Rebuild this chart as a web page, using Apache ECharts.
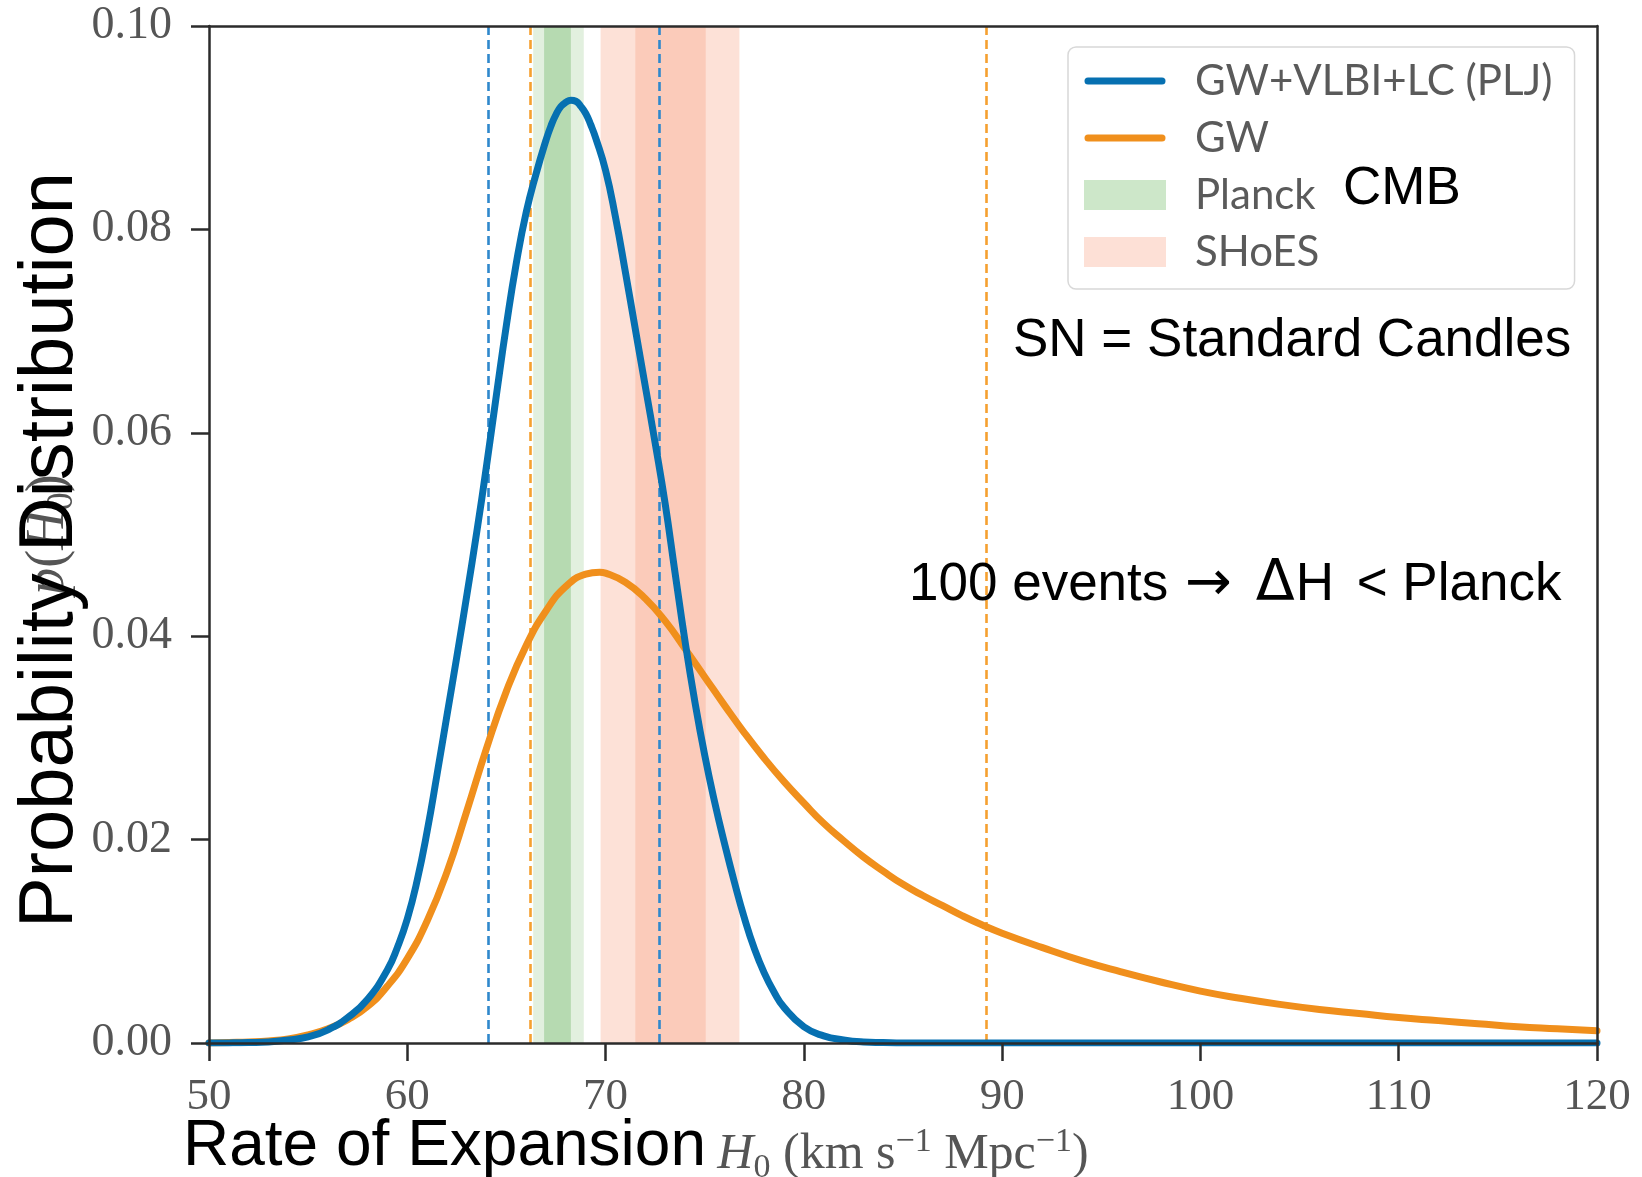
<!DOCTYPE html>
<html>
<head>
<meta charset="utf-8">
<script src="https://cdn.jsdelivr.net/npm/echarts@6/dist/echarts.min.js"></script>
<style>
  html, body { margin: 0; padding: 0; background: #ffffff; }
  #chart { width: 1642px; height: 1177px; }
</style>
</head>
<body>
<div id="chart"></div>
<script>
// Posterior of H0 from GW + VLBI + light curve (PLJ model)
const h0Blue = [50, 51, 52, 53, 54, 55, 56, 57, 58, 59, 59.5, 60, 60.5, 61, 61.5, 62, 62.5, 63, 63.5,
  64, 64.5, 65, 65.5, 66, 66.5, 67, 67.25, 67.5, 67.75, 68, 68.25, 68.5, 68.75, 69, 69.25, 69.5, 70, 70.5, 71, 71.5, 72, 72.5,
  73, 73.5, 74, 74.5, 75, 75.5, 76, 76.5, 77, 77.5, 78, 78.5, 79, 80, 81, 82, 83, 84, 85, 90, 100, 110, 120];
const pBlue = [0, 0.00001, 0.00004, 0.0001, 0.0003, 0.0006, 0.0013, 0.0025, 0.0043, 0.0072, 0.0094, 0.0122, 0.0160, 0.0208, 0.0264, 0.0322, 0.0380, 0.0440, 0.0502,
  0.0568, 0.0638, 0.0706, 0.0767, 0.0817, 0.0855, 0.0888, 0.0902, 0.0913, 0.0921, 0.0925, 0.0927, 0.0926, 0.0921, 0.0914, 0.0903, 0.0890, 0.0858, 0.0812, 0.0758, 0.0702, 0.0646, 0.0590,
  0.0531, 0.0463, 0.0396, 0.0336, 0.0283, 0.0237, 0.0196, 0.0158, 0.0123, 0.0093, 0.0069, 0.0050, 0.0035, 0.0016, 0.0007, 0.0003, 0.0001, 0.00004, 0, 0, 0, 0, 0];

// Posterior of H0 from GW alone
const h0Orange = [50, 51, 52, 53, 54, 55, 56, 57, 58, 59, 60, 61, 62, 63, 64, 65, 66, 67, 68, 69, 69.7, 70,
  71, 72, 73, 74, 75, 76, 77, 78, 79, 80, 81, 82, 83, 84, 85, 86, 87, 88, 89, 90,
  92, 94, 96, 98, 100, 102, 104, 106, 108, 110, 112, 114, 116, 118, 120];
const pOrange = [0, 0.00005, 0.0001, 0.0002, 0.0004, 0.0008, 0.0014, 0.0023, 0.0036, 0.0056, 0.0083, 0.0120, 0.0168, 0.0228, 0.0290, 0.0346, 0.0391, 0.0425, 0.0449, 0.0461, 0.0463, 0.0462,
  0.0453, 0.0437, 0.0415, 0.0388, 0.0360, 0.0332, 0.0305, 0.0280, 0.0257, 0.0236, 0.0216, 0.0199, 0.0183, 0.0169, 0.0156, 0.0145, 0.0135, 0.0125, 0.0116, 0.0108,
  0.0094, 0.0081, 0.0070, 0.0060, 0.0051, 0.0044, 0.0038, 0.0033, 0.0029, 0.0025, 0.0022, 0.0019, 0.0016, 0.0014, 0.0012];

// Credible interval bounds (dashed lines)
const blueInterval = [64.08, 72.7];
const orangeInterval = [66.2, 89.2];

// Reference measurements: inner = 1 sigma, outer = 2 sigma
const planckInner = [66.9, 68.25];
const planckOuter = [66.35, 68.9];
const shoesInner = [71.5, 75.05];
const shoesOuter = [69.75, 76.75];

// Axis ticks
const xTicks = { min: 50, max: 120, step: 10 };
const yTicks = { min: 0, max: 0.1, step: 0.02 };

const legendNames = ['GW+VLBI+LC (PLJ)', 'GW', 'Planck', 'SHoES'];

const BLUE = '#0670b1';
const ORANGE = '#f08f1c';
const SPINE = '#2b2b2b';
const TICK_FONT = '"Liberation Serif", "DejaVu Serif", serif';
const SANS = '"Liberation Sans", Arial, sans-serif';

const zip = (xs, ys) => xs.map((x, i) => [x, ys[i]]);

const lineIcon = 'path://M0,0 M82,30 M4,11.5 L78,11.5 A3.5,3.5 0 0 1 78,18.5 L4,18.5 A3.5,3.5 0 0 1 4,11.5 Z';

function serifRich(size) {
  const small = Math.round(size * 0.68);
  return {
    m:   { fontFamily: TICK_FONT, fontSize: size, lineHeight: size + 10, color: '#555' },
    it:  { fontFamily: TICK_FONT, fontStyle: 'italic', fontSize: size, lineHeight: size + 10, color: '#555' },
    sub: { fontFamily: TICK_FONT, fontSize: small, lineHeight: small + 2, verticalAlign: 'bottom', color: '#555' },
    sup: { fontFamily: TICK_FONT, fontSize: small, lineHeight: small + 2, verticalAlign: 'top', color: '#555' }
  };
}

const noteRich = {
  t: { fontFamily: SANS, fontSize: 53, color: '#000' },
  h: { fontFamily: SANS, fontSize: 53, color: '#000', padding: [0, 8, 0, 0] },
  a: { fontFamily: '"DejaVu Sans", sans-serif', fontSize: 56, color: '#000', padding: [0, 2, 0, 2] },
  d: { fontFamily: '"DejaVu Sans", sans-serif', fontSize: 57, color: '#000', padding: [0, 1, 0, 7] }
};

const chart = echarts.init(document.getElementById('chart'), null, { renderer: 'canvas' });

const baseX = {
  type: 'value', min: xTicks.min, max: xTicks.max, interval: xTicks.step,
  splitLine: { show: false }, z: 10,
  axisLine: { show: true, onZero: false, lineStyle: { color: SPINE, width: 2.5 } }
};
const baseY = {
  type: 'value', min: yTicks.min, max: yTicks.max, interval: yTicks.step,
  splitLine: { show: false }, z: 10,
  axisLine: { show: true, onZero: false, lineStyle: { color: SPINE, width: 2.5 } }
};

chart.setOption({
  animation: false,
  backgroundColor: '#ffffff',
  grid: { left: 209, right: 45, top: 26, bottom: 134, show: false, containLabel: false, outerBoundsMode: 'none' },
  xAxis: [
    Object.assign({}, baseX, {
      position: 'bottom',
      axisTick: { show: true, length: 18, lineStyle: { color: SPINE, width: 2.5 } },
      axisLabel: { margin: 32, fontFamily: TICK_FONT, fontSize: 45, color: '#555' },
      name: '{it|H}{sub|0}{m| (km s}{sup|−1}{m| Mpc}{sup|−1}{m|)}',
      nameLocation: 'middle', nameGap: 82,
      nameTextStyle: { rich: serifRich(50) }
    }),
    Object.assign({}, baseX, {
      position: 'top', axisTick: { show: false }, axisLabel: { show: false }
    })
  ],
  yAxis: [
    Object.assign({}, baseY, {
      position: 'left',
      axisTick: { show: true, length: 18, lineStyle: { color: SPINE, width: 2.5 } },
      axisLabel: {
        margin: 37, fontFamily: TICK_FONT, fontSize: 46, color: '#555',
        formatter: v => v.toFixed(2)
      },
      name: '{it|p}{m|(}{it|H}{sub|0}{m|)}',
      nameLocation: 'middle', nameRotate: 90, nameGap: 118,
      nameTextStyle: { rich: serifRich(54) }
    }),
    Object.assign({}, baseY, {
      position: 'right', axisTick: { show: false }, axisLabel: { show: false }
    })
  ],
  legend: {
    orient: 'vertical',
    left: 1068, top: 47,
    padding: [13, 22, 16, 16],
    itemWidth: 82, itemHeight: 30, itemGap: 15,
    backgroundColor: 'rgba(255,255,255,0.85)',
    borderColor: '#d8d8d8', borderWidth: 1.5, borderRadius: 8,
    selectedMode: false,
    itemStyle: { borderWidth: 0 },
    textStyle: { fontFamily: 'Lato, "Open Sans", sans-serif', fontSize: 42, color: '#5a5a5a', padding: [0, 0, 0, 24] },
    data: [
      { name: legendNames[0], icon: lineIcon, itemStyle: { color: BLUE } },
      { name: legendNames[1], icon: lineIcon, itemStyle: { color: ORANGE } },
      { name: legendNames[2], icon: 'rect', itemStyle: { color: '#cde7c9' } },
      { name: legendNames[3], icon: 'rect', itemStyle: { color: '#fde0d6' } }
    ]
  },
  series: [
    {
      name: 'SHoES', type: 'line', data: [], z: 1,
      markArea: {
        silent: true, z: 1,
        data: [
          [{ xAxis: shoesOuter[0], itemStyle: { color: '#fde1d7' } }, { xAxis: shoesOuter[1] }],
          [{ xAxis: shoesInner[0], itemStyle: { color: '#fbcbba' } }, { xAxis: shoesInner[1] }]
        ]
      }
    },
    {
      name: 'Planck', type: 'line', data: [], z: 1,
      markArea: {
        silent: true, z: 1,
        data: [
          [{ xAxis: planckOuter[0], itemStyle: { color: '#e2f0df' } }, { xAxis: planckOuter[1] }],
          [{ xAxis: planckInner[0], itemStyle: { color: '#b6dab1' } }, { xAxis: planckInner[1] }]
        ]
      }
    },
    {
      name: 'interval-blue', type: 'line', data: [], z: 3,
      markLine: {
        silent: true, z: 3, symbol: ['none', 'none'], label: { show: false },
        lineStyle: { color: '#2f88cc', width: 2.6, type: [9, 5] },
        data: blueInterval.map(v => ({ xAxis: v }))
      }
    },
    {
      name: 'interval-orange', type: 'line', data: [], z: 3,
      markLine: {
        silent: true, z: 3, symbol: ['none', 'none'], label: { show: false },
        lineStyle: { color: '#f5a030', width: 2.6, type: [9, 5] },
        data: orangeInterval.map(v => ({ xAxis: v }))
      }
    },
    {
      name: legendNames[1], type: 'line', z: 5,
      data: zip(h0Orange, pOrange),
      showSymbol: false, smooth: 0.5,
      lineStyle: { color: ORANGE, width: 7, cap: 'round', join: 'round' },
      itemStyle: { color: ORANGE }
    },
    {
      name: legendNames[0], type: 'line', z: 6,
      data: zip(h0Blue, pBlue),
      showSymbol: false, smooth: 0.5,
      lineStyle: { color: BLUE, width: 7, cap: 'round', join: 'round' },
      itemStyle: { color: BLUE }
    }
  ],
  graphic: [
    {
      type: 'text', x: 183, y: 1147, z: 100,
      style: { text: 'Rate of Expansion', font: '64px ' + SANS, fill: '#000', textAlign: 'left', textVerticalAlign: 'middle' }
    },
    {
      type: 'text', x: 51, y: 550, rotation: Math.PI / 2, z: 100,
      style: { text: 'Probability Distribution', font: '76px ' + SANS, fill: '#000', textAlign: 'center', textVerticalAlign: 'middle' }
    },
    {
      type: 'text', x: 1343, y: 189, z: 100,
      style: { text: 'CMB', font: '53px ' + SANS, fill: '#000', textAlign: 'left', textVerticalAlign: 'middle' }
    },
    {
      type: 'text', x: 1013, y: 341, z: 100,
      style: { text: 'SN = Standard Candles', font: '53px ' + SANS, fill: '#000', textAlign: 'left', textVerticalAlign: 'middle' }
    },
    {
      type: 'text', x: 909, y: 585, z: 100,
      style: {
        text: '{t|100 events }{a|→}{t| }{d|Δ}{h|H}{t| < Planck}',
        rich: noteRich, textAlign: 'left', textVerticalAlign: 'middle'
      }
    }
  ]
});
</script>
</body>
</html>
